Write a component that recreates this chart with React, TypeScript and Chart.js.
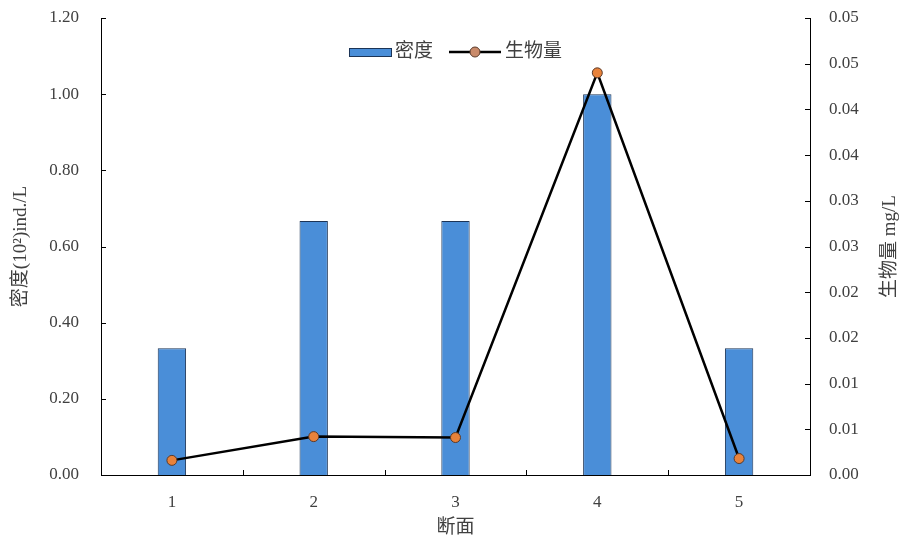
import React, { useEffect, useRef } from "react";
import { Chart, registerables } from "chart.js";

Chart.register(...registerables);

const categories = ["1", "2", "3", "4", "5"];
const densityValues = [0.333, 0.667, 0.667, 1.0, 0.333];
const biomassValues = [0.0016, 0.0042, 0.0041, 0.044, 0.0018];
const leftTickLabels = ["0.00", "0.20", "0.40", "0.60", "0.80", "1.00", "1.20"];
const rightTickLabels = ["0.00", "0.01", "0.01", "0.02", "0.02", "0.03", "0.03", "0.04", "0.04", "0.05", "0.05"];
const densityLabel = "密度";
const biomassLabel = "生物量";
const leftTitle = "密度(10²)ind./L";
const rightTitle = "生物量 mg/L";
const xTitle = "断面";

const FONT = "'Liberation Serif', 'Noto Sans CJK SC', serif";
const TEXT = "#404040";
const BAR_COLOR = "#4A8ED8";
const BAR_BORDER = "#1c3456";
const POINT_COLOR = "#E8823A";

const overlayPlugin = {
  id: "overlay",
  afterDraw(chart: any) {
    const { ctx, chartArea, scales } = chart;
    const x = scales.x, y = scales.y, y1 = scales.y1;
    ctx.save();
    ctx.strokeStyle = "#000";
    ctx.lineWidth = 1;
    // inward ticks
    ctx.beginPath();
    y.ticks.forEach((t: any) => {
      const py = Math.round(y.getPixelForValue(t.value)) + 0.5;
      ctx.moveTo(chartArea.left, py);
      ctx.lineTo(chartArea.left + 5, py);
    });
    y1.ticks.forEach((t: any) => {
      const py = Math.round(y1.getPixelForValue(t.value)) + 0.5;
      ctx.moveTo(chartArea.right - 5, py);
      ctx.lineTo(chartArea.right, py);
    });
    for (let i = 1; i < categories.length; i++) {
      const px = Math.round(x.getPixelForValue(i - 0.5)) + 0.5;
      ctx.moveTo(px, chartArea.bottom);
      ctx.lineTo(px, chartArea.bottom - 5);
    }
    ctx.stroke();

    // right axis title (rotated, reading bottom to top)
    ctx.save();
    ctx.translate(chart.width - 13, (chartArea.top + chartArea.bottom) / 2);
    ctx.rotate(-Math.PI / 2);
    ctx.font = `19px ${FONT}`;
    ctx.fillStyle = TEXT;
    ctx.textAlign = "center";
    ctx.textBaseline = "middle";
    ctx.fillText(rightTitle, 0, 0);
    ctx.restore();

    // legend
    const ly = chartArea.top + 34;
    const cx = (chartArea.left + chartArea.right) / 2;
    ctx.font = `19px ${FONT}`;
    ctx.textBaseline = "middle";
    const w1 = ctx.measureText(densityLabel).width;
    const w2 = ctx.measureText(biomassLabel).width;
    const total = 42 + 4 + w1 + 16 + 52 + 4 + w2;
    let lx = cx - total / 2;
    ctx.fillStyle = BAR_COLOR;
    ctx.fillRect(lx, ly - 4, 42, 8);
    ctx.strokeStyle = BAR_BORDER;
    ctx.lineWidth = 1;
    ctx.strokeRect(lx + 0.5, ly - 3.5, 42, 8);
    lx += 46;
    ctx.fillStyle = TEXT;
    ctx.textAlign = "left";
    ctx.fillText(densityLabel, lx, ly);
    lx += w1 + 16;
    ctx.strokeStyle = "#000";
    ctx.lineWidth = 2.5;
    ctx.beginPath();
    ctx.moveTo(lx, ly);
    ctx.lineTo(lx + 52, ly);
    ctx.stroke();
    ctx.beginPath();
    ctx.arc(lx + 26, ly, 5, 0, Math.PI * 2);
    ctx.fillStyle = "#C98A6A";
    ctx.fill();
    ctx.lineWidth = 1;
    ctx.strokeStyle = "#5a3a2a";
    ctx.stroke();
    lx += 56;
    ctx.fillStyle = TEXT;
    ctx.fillText(biomassLabel, lx, ly);
    ctx.restore();
  },
};

export default function App() {
  const ref = useRef<HTMLCanvasElement | null>(null);
  useEffect(() => {
    document.body.style.margin = "0";
    const canvas = ref.current;
    if (!canvas) return;
    const chart = new Chart(canvas, {
      type: "bar",
      data: {
        labels: categories,
        datasets: [
          {
            type: "line",
            label: biomassLabel,
            data: biomassValues,
            yAxisID: "y1",
            borderColor: "#000",
            borderWidth: 2.5,
            pointRadius: 5,
            pointBackgroundColor: POINT_COLOR,
            pointBorderColor: "#5a3a2a",
            pointBorderWidth: 1,
            tension: 0,
            order: 1,
          } as any,
          {
            type: "bar",
            label: densityLabel,
            data: densityValues,
            yAxisID: "y",
            backgroundColor: BAR_COLOR,
            borderColor: BAR_BORDER,
            borderWidth: 1,
            barPercentage: 0.2,
            categoryPercentage: 1,
            order: 2,
          } as any,
        ],
      },
      options: {
        responsive: false,
        animation: false,
        layout: { padding: { top: 18, left: 0, right: 0, bottom: 0 } },
        plugins: { legend: { display: false }, tooltip: { enabled: false } },
        scales: {
          x: {
            offset: true,
            grid: { display: false, drawTicks: false },
            border: { display: true, color: "#000", width: 1 },
            ticks: { color: TEXT, font: { family: FONT, size: 17 }, padding: 17 },
            title: { display: true, text: xTitle, color: TEXT, font: { family: FONT, size: 19 }, padding: { top: 0, bottom: 2 } },
            afterFit(scale: any) { scale.height = 66; scale.paddingLeft = 0; scale.paddingRight = 0; },
          },
          y: {
            position: "left",
            min: 0,
            max: 1.2,
            grid: { display: false, drawTicks: false },
            border: { display: true, color: "#000", width: 1 },
            ticks: {
              stepSize: 0.2,
              color: TEXT,
              font: { family: FONT, size: 17 },
              padding: 22,
              callback: (_v: any, i: number) => leftTickLabels[i],
            },
            title: { display: true, text: leftTitle, color: TEXT, font: { family: FONT, size: 19 }, padding: { top: 10, bottom: 0 } },
            afterFit(scale: any) { scale.width = 101; scale.paddingTop = 0; scale.paddingBottom = 0; },
          },
          y1: {
            position: "right",
            min: 0,
            max: 0.05,
            grid: { display: false, drawTicks: false },
            border: { display: true, color: "#000", width: 1 },
            ticks: {
              stepSize: 0.005,
              color: TEXT,
              font: { family: FONT, size: 17 },
              padding: 19,
              callback: (_v: any, i: number) => rightTickLabels[i],
            },
            title: { display: false },
            afterFit(scale: any) { scale.width = 93; scale.paddingTop = 0; scale.paddingBottom = 0; },
          },
        },
      },
      plugins: [overlayPlugin],
    } as any);
    return () => chart.destroy();
  }, []);
  return (
    <div style={{ position: "absolute", left: 0, top: 0, width: 903, height: 541, background: "#fff" }}>
      <canvas ref={ref} width={903} height={541} />
    </div>
  );
}
